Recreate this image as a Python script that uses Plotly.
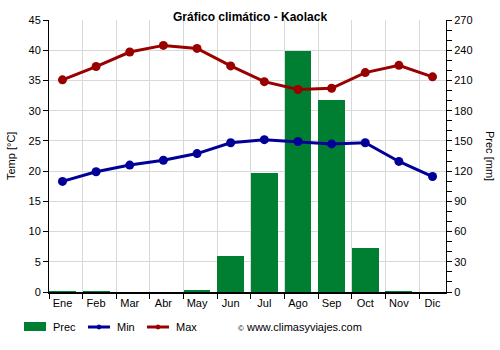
import plotly.graph_objects as go

months = ["Ene", "Feb", "Mar", "Abr", "May", "Jun", "Jul", "Ago", "Sep", "Oct", "Nov", "Dic"]
prec_mm = [0.5, 0.5, 0, 0, 2, 36, 118, 239, 191, 44, 0.5, 0]
temp_min = [18.3, 19.9, 21.0, 21.8, 22.9, 24.7, 25.2, 24.9, 24.5, 24.7, 21.6, 19.1]
temp_max = [35.1, 37.3, 39.7, 40.8, 40.3, 37.4, 34.8, 33.5, 33.7, 36.3, 37.5, 35.6]

GREEN = "#007f32"
BLUE = "#000099"
RED = "#990000"
GRID = "#d9d9d9"
FONT = "Liberation Sans, Arial, sans-serif"

x = list(range(len(months)))

# Plot area in pixels
L, R, T, B = 49, 54, 20, 58
W_TOT, H_TOT = 500, 350
PW, PH = W_TOT - L - R, H_TOT - T - B


def px_x(px):
    return (px - L) / PW


def px_y(py):
    return (H_TOT - B - py) / PH


fig = go.Figure()

# Precipitation bars on the primary (right-hand) axis so the lines sit above them
fig.add_trace(go.Bar(
    x=x, y=prec_mm, width=0.8, marker=dict(color=GREEN, line=dict(width=0)),
    name="Prec", yaxis="y", showlegend=False,
))
fig.add_trace(go.Scatter(
    x=x, y=temp_min, mode="lines+markers", name="Min", yaxis="y2",
    line=dict(color=BLUE, width=3), marker=dict(size=9, color=BLUE),
    showlegend=False,
))
fig.add_trace(go.Scatter(
    x=x, y=temp_max, mode="lines+markers", name="Max", yaxis="y2",
    line=dict(color=RED, width=3), marker=dict(size=9, color=RED),
    showlegend=False,
))

fig.update_layout(
    width=W_TOT, height=H_TOT,
    margin=dict(l=L, r=R, t=T, b=B, pad=0),
    paper_bgcolor="white", plot_bgcolor="white",
    font=dict(family=FONT, size=11, color="#000000"),
    bargap=0,
    xaxis=dict(
        range=[-0.4, 11.4], tickmode="array", tickvals=x, ticktext=months,
        ticks="", showgrid=False, zeroline=False,
        showline=True, linecolor="#000000", linewidth=2,
        tickfont=dict(size=11),
        minor=dict(tickmode="linear", tick0=0.6, dtick=1, ticks="outside",
                   ticklen=5, tickcolor="#000000", showgrid=True,
                   gridcolor=GRID, gridwidth=1),
        fixedrange=True,
    ),
    yaxis=dict(
        side="right", range=[0, 270], tickmode="linear", tick0=0, dtick=30,
        ticks="outside", ticklen=5, tickcolor="#000000",
        showgrid=True, gridcolor=GRID, gridwidth=1, zeroline=False,
        showline=True, linecolor="#000000", linewidth=1,
        minor=dict(tickmode="linear", tick0=0, dtick=10, ticks="outside",
                   ticklen=5, tickcolor="#000000", showgrid=False),
        tickfont=dict(size=11),
    ),
    yaxis2=dict(
        overlaying="y", side="left", range=[0, 45], tickmode="linear",
        tick0=0, dtick=5, ticks="outside", ticklen=5, tickcolor="#000000",
        showgrid=False, zeroline=False,
        showline=True, linecolor="#000000", linewidth=1,
        tickfont=dict(size=11),
    ),
)

annotations = [
    dict(text="<b>Gráfico climático - Kaolack</b>", x=px_x(250), y=px_y(17),
         xanchor="center", yanchor="middle", font=dict(size=12)),
    dict(text="Temp [°C]", x=px_x(11), y=px_y(156), textangle=-90,
         xanchor="center", yanchor="middle", font=dict(size=11)),
    dict(text="Prec [mm]", x=px_x(490), y=px_y(156), textangle=90,
         xanchor="center", yanchor="middle", font=dict(size=11)),
    dict(text="Prec", x=px_x(51), y=px_y(327), xanchor="left",
         yanchor="middle", font=dict(size=11)),
    dict(text="Min", x=px_x(115), y=px_y(327), xanchor="left",
         yanchor="middle", font=dict(size=11)),
    dict(text="Max", x=px_x(174), y=px_y(327), xanchor="left",
         yanchor="middle", font=dict(size=11)),
    dict(text="<span style='font-size:8px'>©</span> www.climasyviajes.com",
         x=px_x(236), y=px_y(327), xanchor="left", yanchor="middle",
         font=dict(size=11)),
]
for a in annotations:
    a.update(xref="paper", yref="paper", showarrow=False)
fig.update_layout(annotations=annotations)

# Legend keys
shapes = [
    dict(type="rect", x0=px_x(24), x1=px_x(46), y0=px_y(331), y1=px_y(322),
         fillcolor=GREEN, line=dict(width=0)),
    dict(type="line", x0=px_x(88), x1=px_x(110), y0=px_y(327), y1=px_y(327),
         line=dict(color=BLUE, width=3)),
    dict(type="circle", x0=px_x(97), x1=px_x(101), y0=px_y(329), y1=px_y(325),
         fillcolor=BLUE, line=dict(color=BLUE, width=1)),
    dict(type="line", x0=px_x(147), x1=px_x(169), y0=px_y(327), y1=px_y(327),
         line=dict(color=RED, width=3)),
    dict(type="circle", x0=px_x(156), x1=px_x(160), y0=px_y(329), y1=px_y(325),
         fillcolor=RED, line=dict(color=RED, width=1)),
]
for s in shapes:
    s.update(xref="paper", yref="paper")
fig.update_layout(shapes=shapes)

fig.write_html("out.html")
